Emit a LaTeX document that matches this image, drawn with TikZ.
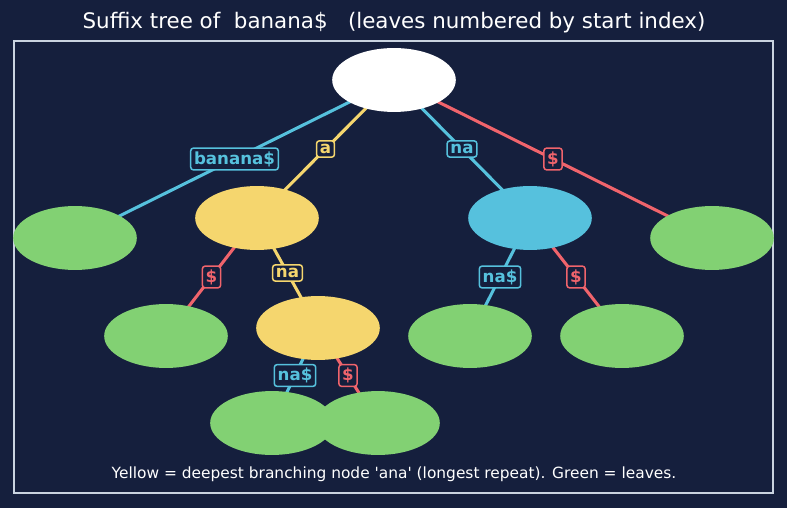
\documentclass[tikz,border=0pt]{standalone}
\usepackage{fontspec}
\setmainfont{DejaVu Sans}
\usepackage{xcolor}
\definecolor{pagebg}{HTML}{151F3D}
\definecolor{framebd}{HTML}{C9D3E0}
\definecolor{edgecyan}{HTML}{56C1DD}
\definecolor{edgeyellow}{HTML}{F5D66E}
\definecolor{edgered}{HTML}{F0646C}
\definecolor{leafgreen}{HTML}{82D173}
\usetikzlibrary{shapes.geometric}
\pgfdeclarelayer{bg}
\pgfdeclarelayer{edges}
\pgfsetlayers{bg,edges,main}

\begin{document}
\begin{tikzpicture}[
  x=0.72pt, y=-0.72pt,
  tnode/.style={ellipse, minimum width=89pt, minimum height=46pt, inner sep=0pt},
  rootnode/.style={fill=white},
  deepnode/.style={fill=edgeyellow},
  innernode/.style={fill=edgecyan},
  leafnode/.style={fill=leafgreen},
  edge/.style={line width=2.2pt},
  elabel/.style={draw, fill=pagebg, line width=1.1pt, rounded corners=2pt,
                 inner sep=2.4pt, font=\fontsize{12}{13}\selectfont\bfseries},
]
% Page and frame
\begin{pgfonlayer}{bg}
\fill[pagebg] (0,0) rectangle (787,508);
\end{pgfonlayer}
\useasboundingbox (0,0) rectangle (787,508);
\draw[framebd, line width=1.1pt] (14,41) rectangle (773,493);

% Title and caption
\node[white, font=\fontsize{15.4}{17}\selectfont] (title) at (394,23)
  {Suffix tree of\ \ banana\$\ \ \ (leaves numbered by start index)};
\node[white, font=\fontsize{11.1}{13}\selectfont] (caption) at (394,474)
  {Yellow = deepest branching node \textquotesingle ana\textquotesingle\ (longest repeat). Green = leaves.};

% Tree nodes
\node[tnode, rootnode] (root) at (394,80) {};
\node[tnode, deepnode] (a) at (257,218) {};
\node[tnode, innernode] (na) at (530,218) {};
\node[tnode, deepnode] (ana) at (318,328) {};

% Leaves
\node[tnode, leafnode] (l0) at (75,238) {};
\node[tnode, leafnode] (l6) at (712,238) {};
\node[tnode, leafnode] (l5) at (166,336) {};
\node[tnode, leafnode] (l2) at (470,336) {};
\node[tnode, leafnode] (l4) at (622,336) {};
\node[tnode, leafnode] (l1) at (272,423) {};
\node[tnode, leafnode] (l3) at (378,423) {};

% Edges with labels
\begin{pgfonlayer}{edges}
\draw[edge, edgecyan] (root.center) -- node[elabel] {banana\$} (l0.center);
\draw[edge, edgeyellow] (root.center) -- node[elabel] {a} (a.center);
\draw[edge, edgecyan] (root.center) -- node[elabel] {na} (na.center);
\draw[edge, edgered] (root.center) -- node[elabel] {\$} (l6.center);
\draw[edge, edgered] (a.center) -- node[elabel] {\$} (l5.center);
\draw[edge, edgeyellow] (a.center) -- node[elabel] {na} (ana.center);
\draw[edge, edgecyan] (na.center) -- node[elabel] {na\$} (l2.center);
\draw[edge, edgered] (na.center) -- node[elabel] {\$} (l4.center);
\draw[edge, edgecyan] (ana.center) -- node[elabel] {na\$} (l1.center);
\draw[edge, edgered] (ana.center) -- node[elabel] {\$} (l3.center);
\end{pgfonlayer}
\end{tikzpicture}
\end{document}
